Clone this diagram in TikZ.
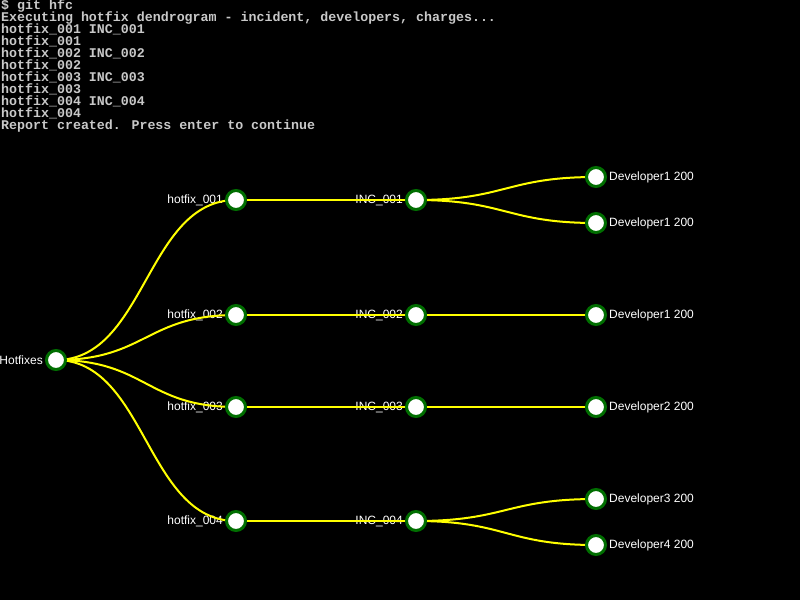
\documentclass[tikz,border=0pt]{standalone}
\usepackage{fontspec}
\setmainfont{Liberation Sans}
\newfontfamily\consolefont{Liberation Mono}
\usetikzlibrary{calc}
\definecolor{linkyellow}{RGB}{255,255,0}
\definecolor{ringgreen}{RGB}{0,110,0}
\definecolor{consolegray}{RGB}{200,200,200}
\tikzset{
  dot/.style={circle,draw=ringgreen,fill=white,line width=3pt,minimum size=19pt,inner sep=0pt},
  link/.style={draw=linkyellow,line width=2pt},
  lbl/.style={text=white,font=\fontsize{12}{14}\selectfont,inner sep=0pt},
  con/.style={text=consolegray,font=\consolefont\bfseries\fontsize{13.3}{12}\selectfont,anchor=base west,inner sep=0pt}
}
\newcommand{\mylink}[2]{%
  \path ($(#1)!0.5!(#2)$) coordinate (m);
  \draw[link] (#1) .. controls (m |- #1) and (m |- #2) .. (#2);}
\begin{document}
\begin{tikzpicture}[x=1pt,y=-1pt]
\fill[black] (0,0) rectangle (800,600);
\useasboundingbox (0,0) rectangle (800,600);
% console text
\node[con] (t0) at (1,9) {\$ git hfc};
\node[con] (t1) at (1,21) {Executing hotfix dendrogram - incident, developers, charges...};
\node[con] (t2) at (1,33) {hotfix\_001 INC\_001};
\node[con] (t3) at (1,45) {hotfix\_001};
\node[con] (t4) at (1,57) {hotfix\_002 INC\_002};
\node[con] (t5) at (1,69) {hotfix\_002};
\node[con] (t6) at (1,81) {hotfix\_003 INC\_003};
\node[con] (t7) at (1,93) {hotfix\_003};
\node[con] (t8) at (1,105) {hotfix\_004 INC\_004};
\node[con] (t9) at (1,117) {hotfix\_004};
\node[con] (t10) at (1,129) {Report created. Press enter to continue};
% coordinates
\coordinate (root) at (56,360);
\coordinate (h1) at (236,200);
\coordinate (h2) at (236,315);
\coordinate (h3) at (236,407);
\coordinate (h4) at (236,521);
\coordinate (i1) at (416,200);
\coordinate (i2) at (416,315);
\coordinate (i3) at (416,407);
\coordinate (i4) at (416,521);
\coordinate (d1) at (596,177);
\coordinate (d2) at (596,223);
\coordinate (d3) at (596,315);
\coordinate (d4) at (596,407);
\coordinate (d5) at (596,499);
\coordinate (d6) at (596,545);
% labels
\node[lbl,anchor=east] (lroot) at ($(root)+(-13,0)$) {Hotfixes};
\node[lbl,anchor=east] (lh1) at ($(h1)+(-13,0)$) {hotfix\_001};
\node[lbl,anchor=east] (lh2) at ($(h2)+(-13,0)$) {hotfix\_002};
\node[lbl,anchor=east] (lh3) at ($(h3)+(-13,0)$) {hotfix\_003};
\node[lbl,anchor=east] (lh4) at ($(h4)+(-13,0)$) {hotfix\_004};
\node[lbl,anchor=east] (li1) at ($(i1)+(-13,0)$) {INC\_001};
\node[lbl,anchor=east] (li2) at ($(i2)+(-13,0)$) {INC\_002};
\node[lbl,anchor=east] (li3) at ($(i3)+(-13,0)$) {INC\_003};
\node[lbl,anchor=east] (li4) at ($(i4)+(-13,0)$) {INC\_004};
\node[lbl,anchor=west] (ld1) at ($(d1)+(13,0)$) {Developer1 200};
\node[lbl,anchor=west] (ld2) at ($(d2)+(13,0)$) {Developer1 200};
\node[lbl,anchor=west] (ld3) at ($(d3)+(13,0)$) {Developer1 200};
\node[lbl,anchor=west] (ld4) at ($(d4)+(13,0)$) {Developer2 200};
\node[lbl,anchor=west] (ld5) at ($(d5)+(13,0)$) {Developer3 200};
\node[lbl,anchor=west] (ld6) at ($(d6)+(13,0)$) {Developer4 200};
% links
\mylink{root}{h1}\mylink{root}{h2}\mylink{root}{h3}\mylink{root}{h4}
\mylink{h1}{i1}\mylink{h2}{i2}\mylink{h3}{i3}\mylink{h4}{i4}
\mylink{i1}{d1}\mylink{i1}{d2}\mylink{i2}{d3}\mylink{i3}{d4}
\mylink{i4}{d5}\mylink{i4}{d6}
% circles
\foreach \n in {root,h1,h2,h3,h4,i1,i2,i3,i4,d1,d2,d3,d4,d5,d6}
  \node[dot] (c\n) at (\n) {};
\end{tikzpicture}
\end{document}
